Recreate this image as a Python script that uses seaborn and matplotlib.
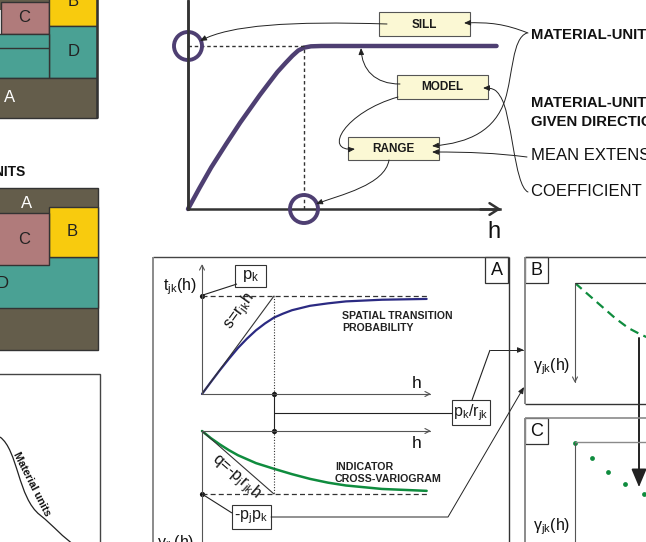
import matplotlib
matplotlib.use("Agg")
import matplotlib.pyplot as plt
import seaborn as sns
from matplotlib.patches import Rectangle, Circle, FancyArrowPatch, PathPatch
from matplotlib.path import Path

# Variogram model (lag in units of the range, semivariance in units of the sill)
model_h = [0, 0.1, 0.2, 0.33, 0.45, 0.55, 0.62, 0.7, 0.77, 0.84, 0.9, 0.95, 1.0, 1.06, 1.15, 2.66]
model_g = [0, 0.13, 0.255, 0.4, 0.53, 0.63, 0.7, 0.775, 0.84, 0.895, 0.94, 0.972, 0.99, 0.998, 1.0, 1.0]
model_ticks = [0, 0.5, 1.0, 1.5, 2.0, 2.5]
sill, model_range = 1.0, 1.0

# Spatial transition probability t_jk(h) / p_k
tp_h = [0, 0.125, 0.25, 0.375, 0.5, 0.625, 0.75, 0.875, 1.0, 1.125, 1.25, 1.5, 1.75, 2.0, 2.5, 3.12]
tp_t = [0, 0.124, 0.245, 0.36, 0.47, 0.565, 0.65, 0.72, 0.78, 0.82, 0.855, 0.9, 0.925, 0.945, 0.962, 0.97]

# Indicator cross-variogram / (p_j p_k)
cv_h = [0, 0.125, 0.25, 0.375, 0.5, 0.75, 1.0, 1.25, 1.5, 1.75, 2.0, 2.5, 3.12]
cv_g = [0, -0.115, -0.215, -0.305, -0.385, -0.51, -0.6, -0.685, -0.76, -0.82, -0.865, -0.92, -0.95]

# Panel B model curve and panel C experimental points
b_h = [0, 0.185, 0.37, 0.555, 0.74, 0.89, 0.99]
b_g = [0, -0.185, -0.37, -0.555, -0.714, -0.804, -0.857]
c_h = [0, 0.236, 0.458, 0.694, 0.958]
c_g = [-0.016, -0.254, -0.476, -0.667, -0.825]

W, H = 646, 542
sns.set_style("white")
plt.rcParams["font.family"] = ["Liberation Sans", "DejaVu Sans"]
plt.rcParams["mathtext.fontset"] = "custom"
plt.rcParams["mathtext.rm"] = "Liberation Sans"
plt.rcParams["mathtext.it"] = "Liberation Sans:italic"
plt.rcParams["mathtext.bf"] = "Liberation Sans:bold"

fig = plt.figure(figsize=(W / 100, H / 100), dpi=100)

PURPLE = "#4E3F72"
NAVY = "#2B2A82"
GREEN = "#0F8C3E"
DARK = "#333333"
GREY = "#8A8A8A"


def px_axes(x0, y0, x1, y1):
    ax = fig.add_axes([x0 / W, 1 - y1 / H, (x1 - x0) / W, (y1 - y0) / H])
    ax.set_facecolor("none")
    return ax


def unclip(ax):
    for art in ax.lines + ax.collections:
        art.set_clip_on(False)


# ---------------- top: variogram model ----------------
ax_top = px_axes(188, 0, 500, 209)
ax_top.set_xlim(0, 312 / 116)
ax_top.set_ylim(0, 209 / 163)
sns.lineplot(x=model_h, y=model_g, ax=ax_top, color=PURPLE, lw=3.2,
             sort=False, estimator=None)
ax_top.plot([0, model_range], [sill, sill], ls=(0, (2.5, 2)), color=DARK, lw=1.0)
ax_top.plot([model_range, model_range], [0, sill], ls=(0, (2.5, 2)), color=DARK, lw=1.0)
unclip(ax_top)
for s in ["top", "right"]:
    ax_top.spines[s].set_visible(False)
for s in ["left", "bottom"]:
    ax_top.spines[s].set_color(DARK)
    ax_top.spines[s].set_linewidth(1.8)
ax_top.set_xticks(model_ticks)
ax_top.set_yticks([])
ax_top.tick_params(axis="x", length=5, width=1.5, direction="out",
                   colors=DARK, labelbottom=False)

# ---------------- panel A: transition probability ----------------
a_up = px_axes(202, 265, 430, 394)
a_up.set_xlim(0, 228 / 72)
a_up.set_ylim(0, 129 / 98)
a_up.set_axis_off()
sns.lineplot(x=tp_h, y=tp_t, ax=a_up, color=NAVY, lw=1.6, sort=False, estimator=None)
a_up.plot([0, 1], [0, 1], color=DARK, lw=0.8)
a_up.plot([0, 3.14], [1, 1], ls=(0, (4, 2.5)), color=DARK, lw=0.9)
a_up.plot([1, 1], [0, 1], ls=(0, (1, 1.5)), color=DARK, lw=0.8)
sns.scatterplot(x=[0, 1], y=[1, 0], ax=a_up, color="#111111", s=14, linewidth=0)
unclip(a_up)

# ---------------- panel A: indicator cross-variogram ----------------
a_lo = px_axes(202, 431, 430, 542)
a_lo.set_xlim(0, 228 / 72)
a_lo.set_ylim(-111 / 63, 0)
a_lo.set_axis_off()
sns.lineplot(x=cv_h, y=cv_g, ax=a_lo, color=GREEN, lw=1.8, sort=False, estimator=None)
a_lo.plot([0, 1], [0, -1], color=DARK, lw=0.8)
a_lo.plot([0, 3.14], [-1, -1], ls=(0, (4, 2.5)), color=DARK, lw=0.9)
a_lo.plot([1, 1], [0, -1], ls=(0, (1, 1.5)), color=DARK, lw=0.8)
sns.scatterplot(x=[0, 1], y=[-1, 0], ax=a_lo, color="#111111", s=14, linewidth=0)
unclip(a_lo)

# ---------------- panel B ----------------
b_ax = px_axes(575, 283, 646, 382)
b_ax.set_xlim(0, 71 / 72)
b_ax.set_ylim(-99 / 63, 0)
b_ax.set_axis_off()
sns.lineplot(x=b_h, y=b_g, ax=b_ax, color=GREEN, lw=1.6, ls=(0, (4, 2.5)),
             sort=False, estimator=None)

# ---------------- panel C ----------------
c_ax = px_axes(575, 442, 646, 542)
c_ax.set_xlim(0, 71 / 72)
c_ax.set_ylim(-100 / 63, 0)
c_ax.set_axis_off()
sns.scatterplot(x=c_h, y=c_g, ax=c_ax, color=GREEN, s=12, linewidth=0)
unclip(c_ax)

# ---------------- overlay in pixel coordinates ----------------
ov = fig.add_axes([0, 0, 1, 1], zorder=10)
ov.set_xlim(0, W)
ov.set_ylim(H, 0)
ov.set_facecolor("none")
ov.axis("off")


def to_px(ax, x, y):
    d = ax.transData.transform((x, y))
    return ov.transData.inverted().transform(d)


def line(pts, color=DARK, lw=0.8, **kw):
    xs, ys = zip(*pts)
    ov.plot(xs, ys, color=color, lw=lw, solid_capstyle="butt", **kw)


def arrow(verts, curved=True, style="-|>,head_length=0.38,head_width=0.16",
          ms=10, lw=0.7, color="#222222"):
    if curved:
        codes = [Path.MOVETO] + [Path.CURVE4] * (len(verts) - 1)
    else:
        codes = [Path.MOVETO] + [Path.LINETO] * (len(verts) - 1)
    p = FancyArrowPatch(path=Path(verts, codes), arrowstyle=style,
                        mutation_scale=ms, lw=lw, color=color,
                        shrinkA=0, shrinkB=0)
    ov.add_patch(p)


def box(x0, y0, x1, y1, text, fc="#FBF8D4", ec="#555555", size=8.5,
        weight="bold", lw=0.8):
    ov.add_patch(Rectangle((x0, y0), x1 - x0, y1 - y0, fc=fc, ec=ec, lw=lw))
    ov.text((x0 + x1) / 2, (y0 + y1) / 2 + 0.5, text, ha="center", va="center",
            fontsize=size, fontweight=weight, color="#1A1A1A")


# stratigraphic sketches (left)
OLIVE, TEAL, YELLOW, MAUVE = "#645D4B", "#4AA194", "#F8CB0E", "#B07B7B"
ek = dict(ec=DARK, lw=1.0)
ov.add_patch(Rectangle((-2, -2), 99, 12, fc=OLIVE, lw=0))
ov.add_patch(Rectangle((1, 2), 48, 32, fc=MAUVE, **ek))
ov.add_patch(Rectangle((49, -2), 48, 28, fc=YELLOW, **ek))
ov.add_patch(Rectangle((49, 26), 48, 52, fc=TEAL, **ek))
ov.add_patch(Rectangle((-2, 34), 51, 44, fc=TEAL, **ek))
line([(-2, 48), (49, 48)], color=DARK, lw=1.0)
ov.add_patch(Rectangle((-2, 78), 99, 40, fc=OLIVE, **ek))
line([(97, -2), (97, 118)], color=DARK, lw=1.8)
ov.text(24, 17, "C", ha="center", va="center", fontsize=12, color="#222")
ov.text(74, 51, "D", ha="center", va="center", fontsize=12, color="#222")
ov.text(73, 2, "B", ha="center", va="center", fontsize=12, color="#222")
ov.text(10, 97, "A", ha="center", va="center", fontsize=12, color="white")

ov.text(25, 172, "MATERIAL UNITS", ha="right", va="center", fontsize=10,
        fontweight="bold", color="#111")
ov.add_patch(Rectangle((-2, 188), 100, 162, fc=OLIVE, **ek))
ov.add_patch(Rectangle((-2, 257), 100, 51, fc=TEAL, **ek))
ov.add_patch(Rectangle((49, 207), 49, 50, fc=YELLOW, **ek))
ov.add_patch(Rectangle((-2, 213), 51, 52, fc=MAUVE, **ek))
ov.text(27, 203, "A", ha="center", va="center", fontsize=12, color="white")
ov.text(72, 231, "B", ha="center", va="center", fontsize=12, color="#222")
ov.text(24, 239, "C", ha="center", va="center", fontsize=12, color="#222")
ov.text(3, 283, "D", ha="center", va="center", fontsize=12, color="#222")

ov.add_patch(Rectangle((-2, 374), 102, 175, fc="white", ec="#444", lw=1.0))
mu = Path([(0, 437), (18, 450), (18, 498), (40, 515), (55, 527), (62, 537), (76, 546)],
          [Path.MOVETO] + [Path.CURVE4] * 6)
ov.add_patch(PathPatch(mu, fc="none", ec="#222", lw=0.9))
ov.text(32, 484, "Material units", rotation=-63, ha="center", va="center",
        fontsize=7.8, fontweight="bold", color="#111", rotation_mode="anchor")

# top chart: axis arrow, circles, labels
line([(188, 0), (188, 209)], color=DARK, lw=1.8)
arrow([(480, 209), (501, 209)], curved=False,
      style="->,head_length=0.55,head_width=0.35", ms=12, lw=1.8, color=DARK)
for (cx, cy) in [to_px(ax_top, 0, sill), to_px(ax_top, model_range, 0)]:
    ov.add_patch(Circle((cx, cy), 14, fc="none", ec=PURPLE, lw=2.8))
ov.text(494, 232, "h", ha="center", va="center", fontsize=17, color="#111")

box(379, 12, 470, 36, "SILL")
box(397, 75, 488, 99, "MODEL")
box(348, 137, 439, 160, "RANGE")

arrow([(387, 24), (290, 21), (230, 25), (200, 41)])
arrow([(528, 33), (505, 24), (490, 22), (464, 23)])
arrow([(400, 84), (375, 84), (362, 70), (361, 48)])
arrow([(398, 97), (345, 112), (322, 152), (355, 149)])
arrow([(527, 33), (512, 38), (513, 75), (505, 100),
       (495, 130), (470, 143), (432, 146)])
arrow([(528, 192), (514, 186), (512, 112), (500, 96),
       (496, 89), (492, 88), (483, 88)])
arrow([(527, 157), (495, 153), (470, 152), (432, 152)])
arrow([(389, 160), (385, 185), (340, 195), (316, 204)])

ov.text(531, 35, "MATERIAL-UNIT PROPORTIONS", ha="left", va="center",
        fontsize=10.7, fontweight="bold", color="#111")
ov.text(531, 103, "MATERIAL-UNIT TRANSITIONS IN A", ha="left", va="center",
        fontsize=10.7, fontweight="bold", color="#111")
ov.text(531, 122, "GIVEN DIRECTION", ha="left", va="center",
        fontsize=10.7, fontweight="bold", color="#111")
ov.text(531, 156, "MEAN EXTENSION", ha="left", va="center",
        fontsize=12, color="#111")
ov.text(531, 192, "COEFFICIENT OF ANISOTROPY", ha="left", va="center",
        fontsize=12, color="#111")

# panel frames
line([(153, 257), (509, 257)], color="#444", lw=1.0)
line([(153, 257), (153, 546)], color=GREY, lw=1.4)
line([(509, 257), (509, 546)], color="#333", lw=1.0)
line([(525, 257), (650, 257)], color="#444", lw=1.0)
line([(525, 257), (525, 404)], color=GREY, lw=1.4)
line([(525, 404), (650, 404)], color="#333", lw=1.0)
line([(525, 418), (650, 418)], color=GREY, lw=1.2)
line([(525, 418), (525, 546)], color=GREY, lw=1.4)
for (x0, y0, t) in [(485, 257, "A"), (525, 257, "B"), (525, 418, "C")]:
    ov.add_patch(Rectangle((x0, y0), 23, 26, fc="white", ec="#333", lw=0.9))
    ov.text(x0 + 11.5, y0 + 13.5, t, ha="center", va="center", fontsize=13, color="#111")

# panel A axes
ax_style = "->,head_length=0.35,head_width=0.18"
arrow([(202, 394), (202, 264)], curved=False, style=ax_style, ms=10, lw=0.8, color="#555")
arrow([(202, 394), (431, 394)], curved=False, style=ax_style, ms=10, lw=0.8, color="#555")
arrow([(202, 431), (431, 431)], curved=False, style=ax_style, ms=10, lw=0.8, color="#555")
line([(202, 431), (202, 546)], color="#555", lw=0.8)
ov.text(180, 287, r"$\mathregular{t_{jk}(h)}$", ha="center", va="center",
        fontsize=11.5, color="#111")
ov.text(417, 383, "h", ha="center", va="center", fontsize=12.5, color="#111")
ov.text(417, 443, "h", ha="center", va="center", fontsize=12.5, color="#111")
ov.text(176, 533, r"$\mathregular{\gamma_{jk}(h)}$", ha="center", va="top",
        fontsize=11.5, color="#111")

ov.text(342, 316, "SPATIAL TRANSITION", ha="left", va="center", fontsize=7.6,
        fontweight="bold", color="#222")
ov.text(342, 328, "PROBABILITY", ha="left", va="center", fontsize=7.6,
        fontweight="bold", color="#222")
ov.text(335, 467, "INDICATOR", ha="left", va="center", fontsize=7.7,
        fontweight="bold", color="#222")
ov.text(335, 479, "CROSS-VARIOGRAM", ha="left", va="center", fontsize=7.7,
        fontweight="bold", color="#222")

ov.text(240, 311, r"s=r$\mathregular{_{jk}}$h", rotation=54, ha="center",
        va="center", fontsize=11.5, color="#111", rotation_mode="anchor")
ov.text(236, 477, r"q=-p$\mathregular{_j}$r$\mathregular{_{jk}}$h", rotation=-41,
        ha="center", va="center", fontsize=11.5, color="#111", rotation_mode="anchor")

box(235, 265, 266, 287, r"$\mathregular{p_k}$", fc="white", ec="#333",
    size=12, weight="normal")
line([(237, 284), (203, 295)], color="#222", lw=0.8)

box(452, 400, 490, 425, r"$\mathregular{p_k/r_{jk}}$", fc="white", ec="#333",
    size=11.5, weight="normal")
line([(274, 413), (452, 413)], color="#222", lw=0.8)
line([(274, 394), (274, 431)], color="#222", lw=0.8)
line([(472, 400), (490, 350)], color="#222", lw=0.8)
arrow([(490, 350), (524, 350)], curved=False)

box(232, 505, 271, 529, r"-p$\mathregular{_j}$p$\mathregular{_k}$", fc="white",
    ec="#333", size=11.5, weight="normal")
line([(202, 494), (232, 513)], color="#222", lw=0.8)
arrow([(271, 517), (448, 517), (524, 387)], curved=False)

# panels B and C axes
arrow([(575, 283), (575, 383)], curved=False, style=ax_style, ms=10, lw=0.8, color="#555")
line([(575, 283), (650, 283)], color="#333", lw=0.9)
ov.text(552, 367, r"$\mathregular{\gamma_{jk}(h)}$", ha="center", va="center",
        fontsize=11.5, color="#111")
line([(575, 442), (575, 546)], color="#555", lw=0.8)
line([(575, 442), (650, 442)], color=GREY, lw=1.0)
ov.text(552, 527, r"$\mathregular{\gamma_{jk}(h)}$", ha="center", va="center",
        fontsize=11.5, color="#111")

arrow([(639, 338), (639, 487)], curved=False,
      style="-|>,head_length=0.9,head_width=0.38", ms=12, lw=1.4, color="#222")

fig.savefig("out.png", dpi=100)
